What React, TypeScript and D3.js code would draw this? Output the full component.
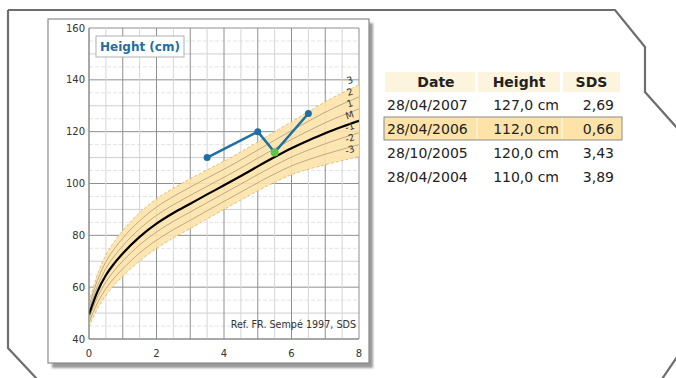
import React from "react";
import * as d3 from "d3";

const refAges = [0, 0.25, 0.5, 0.75, 1, 1.5, 2, 2.5, 3, 3.5, 4, 4.5, 5, 5.5, 6, 6.5, 7, 7.5, 8];
const refMedian = [49.5, 58.3, 64.6, 69.2, 73, 79.4, 84.5, 88.6, 92.2, 95.8, 99.3, 102.9, 106.6, 110.2, 113.6, 116.6, 119.4, 121.9, 124.2];
const refSD = [1.6, 2.2, 2.6, 2.8, 2.95, 3.1, 3.2, 3.2, 3.2, 3.15, 3.1, 3.1, 3.15, 3.25, 3.4, 3.7, 4.05, 4.35, 4.6];
const sdLevels = [3, 2, 1, 0, -1, -2, -3];
const sdLabels = ["3", "2", "1", "M", "-1", "-2", "-3"];

const visitDates = ["28/04/2004", "28/10/2005", "28/04/2006", "28/04/2007"];
const visitAges = [3.5, 5, 5.5, 6.5];
const visitHeights = [110, 120, 112, 127];
const visitHeightText = ["110,0 cm", "120,0 cm", "112,0 cm", "127,0 cm"];
const visitSDS = ["3,89", "3,43", "0,66", "2,69"];
const selectedVisit = 2;

const xTicks = [0, 2, 4, 6, 8];
const yTicks = [40, 60, 80, 100, 120, 140, 160];
const tableHeaders = ["Date", "Height", "SDS"];

const FONT = "'DejaVu Sans', Verdana, sans-serif";

export default function App() {
  const x = d3.scaleLinear().domain([0, 8]).range([89, 359]);
  const y = d3.scaleLinear().domain([40, 160]).range([339, 28]);

  const refPts = refAges.map((a, i) => ({ a, m: refMedian[i], s: refSD[i] }));
  const curve = d3.curveMonotoneX;
  const lineFor = (k: number) =>
    d3.line<any>().x((d) => x(d.a)).y((d) => y(d.m + k * d.s)).curve(curve)(refPts) as string;
  const band = d3
    .area<any>()
    .x((d) => x(d.a))
    .y0((d) => y(d.m - 3 * d.s))
    .y1((d) => y(d.m + 3 * d.s))
    .curve(curve)(refPts) as string;

  const minorX = d3.range(0, 8.01, 0.5);
  const minorY = d3.range(40, 160.01, 5);

  const visits = visitAges.map((a, i) => ({ a, h: visitHeights[i] }));
  const patientLine = d3.line<any>().x((d) => x(d.a)).y((d) => y(d.h))(visits) as string;

  const labelAge = 7.75;
  const lastM = d3.scaleLinear().domain(refAges).range(refMedian);
  const lastS = d3.scaleLinear().domain(refAges).range(refSD);

  const colX = [385, 478, 563];
  const colW = [91, 83, 58];
  const rowOrder = [3, 2, 1, 0];

  return (
    <svg
      width={676}
      height={378}
      style={{ position: "absolute", left: 0, top: 0, fontFamily: FONT }}
    >
      <defs>
        <filter id="blur" x="-10%" y="-10%" width="120%" height="120%">
          <feGaussianBlur stdDeviation="1.2" />
        </filter>
        <clipPath id="plotClip">
          <rect x={x(0)} y={y(160)} width={x(8) - x(0)} height={y(40) - y(160)} />
        </clipPath>
      </defs>
      <rect width={676} height={378} fill="#fff" />
      <path
        d="M8,10 L615,10 L645,47 L645,92 L678,129 M8,10 L8,348 L37,379 M677,357 L662,379"
        fill="none"
        stroke="#6e6e6e"
        strokeWidth={2.2}
      />
      <rect x={52} y={23} width={321} height={345} fill="#9a9a9a" filter="url(#blur)" />
      <rect x={48} y={19} width={321} height={344} fill="#fff" stroke="#8a8a8a" strokeWidth={1.2} />

      <g>
        {minorY.map((v) => (
          <line
            key={"hy" + v}
            x1={x(0)}
            x2={x(8)}
            y1={y(v)}
            y2={y(v)}
            stroke={v % 20 === 0 ? "#8f8f8f" : v % 10 === 0 ? "#cfcfcf" : "#e3e3e3"}
            strokeWidth={1}
            strokeDasharray={v % 10 === 0 ? undefined : "4,2"}
          />
        ))}
        {minorX.map((v) => (
          <line
            key={"vx" + v}
            x1={x(v)}
            x2={x(v)}
            y1={y(40)}
            y2={y(160)}
            stroke={v % 1 === 0 ? "#8f8f8f" : "#d5d5d5"}
            strokeWidth={1}
          />
        ))}
      </g>

      <g clipPath="url(#plotClip)">
        <path d={band} fill="#fde3a9" opacity={0.9} />
        {sdLevels.map((k) =>
          k === 0 ? null : (
            <path
              key={"sd" + k}
              d={lineFor(k)}
              fill="none"
              stroke={Math.abs(k) === 3 ? "#d9b565" : "#a89a7e"}
              strokeWidth={0.8}
              strokeDasharray={Math.abs(k) === 3 ? "3,2" : undefined}
            />
          )
        )}
        <path d={lineFor(0)} fill="none" stroke="#000" strokeWidth={2.2} />
      </g>

      {sdLevels.map((k, i) => {
        const yy = y(lastM(labelAge) + k * lastS(labelAge)) - 8;
        return (
          <text
            key={"lab" + k}
            x={350}
            y={yy}
            fontSize={9.5}
            fill="#333"
            textAnchor="middle"
            dominantBaseline="middle"
            transform={`rotate(-18, 350, ${yy})`}
          >
            {sdLabels[i]}
          </text>
        );
      })}

      <line x1={x(0)} x2={x(0)} y1={y(40)} y2={y(160)} stroke="#8a8a8a" />
      <line x1={x(0)} x2={x(8)} y1={y(40)} y2={y(40)} stroke="#8a8a8a" />

      {yTicks.map((t) => (
        <text key={"yt" + t} x={85} y={y(t) + 3.5} fontSize={10} textAnchor="end" fill="#333">
          {t}
        </text>
      ))}
      {xTicks.map((t) => (
        <text key={"xt" + t} x={x(t)} y={357} fontSize={10} textAnchor="middle" fill="#333">
          {t}
        </text>
      ))}

      <rect x={96} y={36} width={88} height={21} fill="#fff" stroke="#b0b0b0" strokeWidth={1} />
      <text x={100} y={51} fontSize={12} fontWeight="bold" fill="#1f6ea5">
        Height (cm)
      </text>

      <text x={356} y={328} fontSize={9.6} textAnchor="end" fill="#333">
        Ref. FR. Sempé 1997, SDS
      </text>

      <path d={patientLine} fill="none" stroke="#1d6fa5" strokeWidth={2.5} />
      {visits.map((v, i) => (
        <circle
          key={"pt" + i}
          cx={x(v.a)}
          cy={y(v.h)}
          r={i === selectedVisit ? 4 : 3.5}
          fill={i === selectedVisit ? "#62c148" : "#1d6fa5"}
        />
      ))}

      {tableHeaders.map((h, j) => (
        <g key={"th" + j}>
          <rect x={colX[j]} y={72} width={colW[j] - 1} height={20} fill="#fdf4de" />
          <text
            x={colX[j] + (colW[j] - 1) / 2 + (j === 0 ? 6 : 0)}
            y={87}
            fontSize={14}
            fontWeight="bold"
            textAnchor="middle"
            fill="#222"
          >
            {h}
          </text>
        </g>
      ))}
      {rowOrder.map((vi, r) => {
        const base = 110 + r * 24;
        const sel = vi === selectedVisit;
        return (
          <g key={"row" + vi}>
            {sel && (
              <g>
                <rect x={384} y={base - 17} width={238} height={23} fill="#fde3a8" stroke="#8a8a8a" strokeWidth={1} />
                <line x1={477} x2={477} y1={base - 16} y2={base + 5} stroke="#fff3d6" strokeWidth={1.5} />
                <line x1={562} x2={562} y1={base - 16} y2={base + 5} stroke="#fff3d6" strokeWidth={1.5} />
              </g>
            )}
            <text x={387} y={base} fontSize={14} fill="#222">
              {visitDates[vi]}
            </text>
            <text x={559} y={base} fontSize={14} textAnchor="end" fill="#222">
              {visitHeightText[vi]}
            </text>
            <text x={614} y={base} fontSize={14} textAnchor="end" fill="#222">
              {visitSDS[vi]}
            </text>
          </g>
        );
      })}
    </svg>
  );
}
